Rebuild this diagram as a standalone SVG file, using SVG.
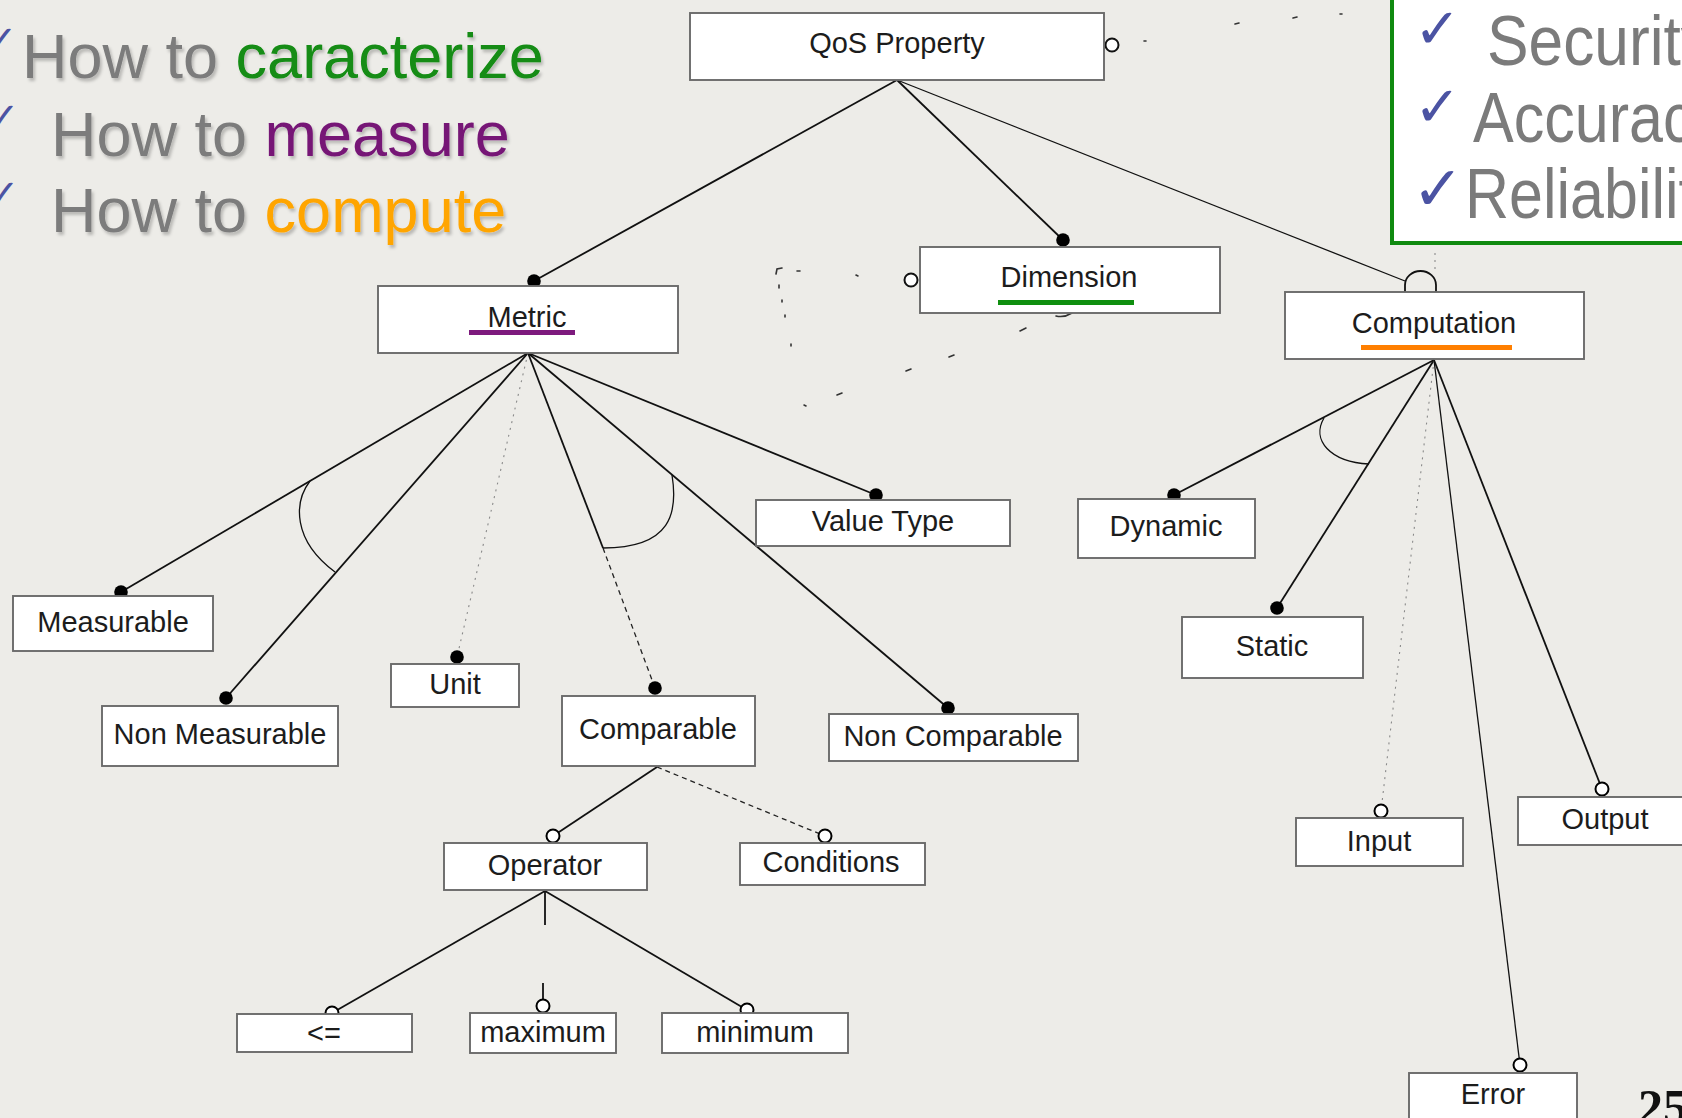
<svg xmlns="http://www.w3.org/2000/svg" width="1682" height="1118" viewBox="0 0 1682 1118">
<defs>
<style>
.bg{fill:#edece8}
.box{fill:#fff;stroke:#6a6a6a;stroke-width:1.9}
.lbl{font-family:"Liberation Sans",Arial,sans-serif;font-size:29px;fill:#1c1c1c;text-anchor:middle}
.ln{fill:none;stroke:#111;stroke-width:1.8}
.thin{fill:none;stroke:#111;stroke-width:1.3}
.dash{fill:none;stroke:#222;stroke-width:1.3;stroke-dasharray:5 4}
.dotted{fill:none;stroke:#8a8a8a;stroke-width:1.1;stroke-dasharray:2 5}
.trace{fill:none;stroke:#333;stroke-width:1.6;stroke-linecap:round}
.ring{fill:#fff;stroke:#111;stroke-width:2}
.head{font-family:"Liberation Sans",Arial,sans-serif;font-size:63px;fill:#7b7b7b}
.side{font-family:"Liberation Sans",Arial,sans-serif;font-size:70px;fill:#7b7b7b}
.chk{font-family:"DejaVu Sans",sans-serif;fill:#4b53a3}
</style>
<marker id="dot" viewBox="-9 -9 18 18" markerWidth="18" markerHeight="18" markerUnits="userSpaceOnUse" refX="0" refY="0">
<circle r="6.8" fill="#000"/>
</marker>
<marker id="ring" viewBox="-9 -9 18 18" markerWidth="18" markerHeight="18" markerUnits="userSpaceOnUse" refX="0" refY="0">
<circle r="6.5" fill="#fff" stroke="#000" stroke-width="2"/>
</marker>
<filter id="soft" x="-5%" y="-20%" width="110%" height="140%">
<feDropShadow dx="2" dy="3" stdDeviation="1.5" flood-color="#000" flood-opacity="0.22"/>
</filter>
</defs>

<rect class="bg" x="0" y="0" width="1682" height="1118"/>

<!-- heading questions -->
<g id="questions">
<text class="chk" x="-16" y="54" font-size="40">✓</text>
<text class="chk" x="-14" y="131" font-size="40">✓</text>
<text class="chk" x="-14" y="208" font-size="40">✓</text>
<text class="head" x="22" y="78" filter="url(#soft)">How to <tspan fill="#128c12">caracterize</tspan></text>
<text class="head" x="51" y="156" filter="url(#soft)">How to <tspan fill="#761676">measure</tspan></text>
<text class="head" x="51" y="232" filter="url(#soft)">How to <tspan fill="#ffa500">compute</tspan></text>
</g>

<!-- dimension list panel -->
<g id="dimensions">
<rect x="1392" y="-10" width="310" height="253" fill="#fff" stroke="#108a10" stroke-width="4"/>
<text class="chk" x="1414" y="48" font-size="56" font-weight="bold">✓</text>
<text class="chk" x="1414" y="126" font-size="56" font-weight="bold">✓</text>
<text class="chk" x="1412" y="210" font-size="62" font-weight="bold">✓</text>
<text class="side" x="1487" y="65" textLength="225" lengthAdjust="spacingAndGlyphs">Security</text>
<text class="side" x="1473" y="142" textLength="251" lengthAdjust="spacingAndGlyphs">Accuracy</text>
<text class="side" x="1465" y="218" textLength="261" lengthAdjust="spacingAndGlyphs">Reliability</text>
</g>

<!-- connectors -->
<g id="connectors">
<!-- from QoS Property -->
<path class="ln" d="M897,80 L534,281" marker-end="url(#dot)"/>
<path class="ln" d="M897,80 L1063,240" marker-end="url(#dot)"/>
<path class="thin" d="M897,80 L1405,281"/>
<path class="ln" d="M1405,293 L1405,285 A15.5,14 0 0 1 1436,285 L1436,293"/>
<circle class="ring" cx="1112" cy="45" r="6.5"/>
<circle class="ring" cx="911" cy="280" r="6.5"/>
<path class="dotted" d="M1435,253 L1435,272"/>

<!-- from Metric -->
<path class="ln" d="M528,353 L121,592" marker-end="url(#dot)"/>
<path class="ln" d="M528,353 L226,698" marker-end="url(#dot)"/>
<path class="dotted" d="M528,353 L457,657" marker-end="url(#dot)"/>
<path class="ln" d="M528,353 L603,548"/>
<path class="dash" d="M603,548 L655,688" marker-end="url(#dot)"/>
<path class="ln" d="M528,353 L948,708" marker-end="url(#dot)"/>
<path class="ln" d="M528,353 L876,495" marker-end="url(#dot)"/>
<path class="thin" d="M310,481 C294,502 292,540 335,572"/>
<path class="thin" d="M672,475 C678,512 672,548 603,548"/>

<!-- from Computation -->
<path class="ln" d="M1434,360 L1174,495" marker-end="url(#dot)"/>
<path class="ln" d="M1434,360 L1277,608" marker-end="url(#dot)"/>
<path class="dotted" d="M1434,360 L1381,811" marker-end="url(#ring)"/>
<path class="thin" d="M1434,360 L1520,1065" marker-end="url(#ring)"/>
<path class="ln" d="M1434,360 L1602,789" marker-end="url(#ring)"/>
<path class="thin" d="M1324,418 C1311,440 1330,462 1369,464"/>

<!-- from Comparable -->
<path class="ln" d="M657,767 L553,836" marker-end="url(#ring)"/>
<path class="dash" d="M657,767 L825,836" marker-end="url(#ring)"/>

<!-- from Operator -->
<path class="ln" d="M545,891 L332,1013" marker-end="url(#ring)"/>
<path class="ln" d="M545,891 L747,1010" marker-end="url(#ring)"/>
<path class="ln" d="M545,891 L545,925"/>
<path class="ln" d="M543,983 L543,1006" marker-end="url(#ring)"/>

<!-- broken dashed traces -->
<path class="trace" d="M776,274 L777,269 L782,268"/>
<path class="trace" d="M797,271 L800,271 M856,275 L858,276"/>
<path class="trace" d="M779,285 L779,288 M782,300 L782,302 M785,315 L785,317 M791,344 L791,346"/>
<path class="trace" d="M1020,331 L1026,328 M949,357 L954,355 M906,371 L911,369 M837,395 L842,393 M804,405 L806,406"/>
<path class="trace" d="M1056,316 Q1064,318 1072,313"/>
<path class="trace" d="M1144,41 L1146,41 M1235,24 L1239,23 M1293,18 L1297,17 M1340,14 L1342,14"/>
</g>

<!-- nodes -->
<g id="qos-property"><rect class="box" x="690" y="13" width="414" height="67"/><text class="lbl" x="897" y="53">QoS Property</text></g>
<g id="metric"><rect class="box" x="378" y="286" width="300" height="67"/><text class="lbl" x="527" y="327">Metric</text><rect x="469" y="330" width="106" height="5" fill="#7d1a7d"/></g>
<g id="dimension"><rect class="box" x="920" y="247" width="300" height="66"/><text class="lbl" x="1069" y="287">Dimension</text><rect x="998" y="300" width="136" height="5" fill="#0f8f0f"/></g>
<g id="computation"><rect class="box" x="1285" y="292" width="299" height="67"/><text class="lbl" x="1434" y="333">Computation</text><rect x="1361" y="345" width="151" height="5" fill="#ff7f00"/></g>
<g id="measurable"><rect class="box" x="13" y="596" width="200" height="55"/><text class="lbl" x="113" y="632">Measurable</text></g>
<g id="non-measurable"><rect class="box" x="102" y="706" width="236" height="60"/><text class="lbl" x="220" y="744">Non Measurable</text></g>
<g id="unit"><rect class="box" x="391" y="664" width="128" height="43"/><text class="lbl" x="455" y="694">Unit</text></g>
<g id="comparable"><rect class="box" x="562" y="696" width="193" height="70"/><text class="lbl" x="658" y="739">Comparable</text></g>
<g id="non-comparable"><rect class="box" x="829" y="714" width="249" height="47"/><text class="lbl" x="953" y="746">Non Comparable</text></g>
<g id="value-type"><rect class="box" x="756" y="500" width="254" height="46"/><text class="lbl" x="883" y="531">Value Type</text></g>
<g id="dynamic"><rect class="box" x="1078" y="499" width="177" height="59"/><text class="lbl" x="1166" y="536">Dynamic</text></g>
<g id="static"><rect class="box" x="1182" y="617" width="181" height="61"/><text class="lbl" x="1272" y="656">Static</text></g>
<g id="input"><rect class="box" x="1296" y="818" width="167" height="48"/><text class="lbl" x="1379" y="851">Input</text></g>
<g id="output"><rect class="box" x="1518" y="797" width="190" height="48"/><text class="lbl" x="1605" y="829">Output</text></g>
<g id="error"><rect class="box" x="1409" y="1073" width="168" height="60"/><text class="lbl" x="1493" y="1104">Error</text></g>
<g id="operator"><rect class="box" x="444" y="843" width="203" height="47"/><text class="lbl" x="545" y="875">Operator</text></g>
<g id="conditions"><rect class="box" x="740" y="843" width="185" height="42"/><text class="lbl" x="831" y="872">Conditions</text></g>
<g id="less-equal"><rect class="box" x="237" y="1014" width="175" height="38"/><text class="lbl" x="324" y="1043">&lt;=</text></g>
<g id="maximum"><rect class="box" x="470" y="1013" width="146" height="40"/><text class="lbl" x="543" y="1042">maximum</text></g>
<g id="minimum"><rect class="box" x="662" y="1013" width="186" height="40"/><text class="lbl" x="755" y="1042">minimum</text></g>

<!-- page number -->
<text x="1638" y="1124" font-family="'Liberation Serif',serif" font-weight="bold" font-size="50" fill="#111">25</text>
</svg>
